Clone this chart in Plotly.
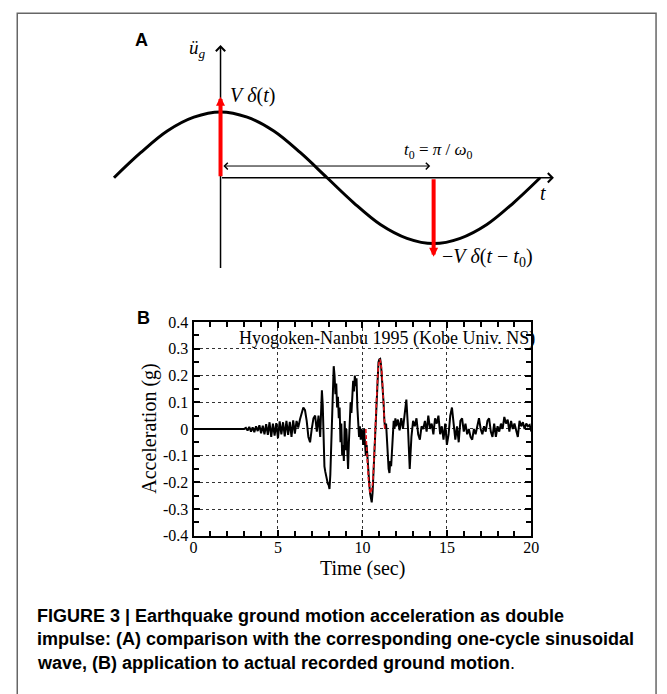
import math
import plotly.graph_objects as go

W, H = 667, 694

# ---------------- Panel A data (schematic one-cycle sinusoid) ----------------
PHASE = [-math.pi/2 + k*math.pi/8 for k in range(17)]
WAVE = [0.0, 0.38, 0.71, 0.92, 1.0, 0.92, 0.71, 0.38, 0.0,
        -0.38, -0.71, -0.92, -1.0, -0.92, -0.71, -0.38, 0.0]
IMPULSE_T = [0.0, math.pi]
IMPULSE_H = [1.23, -1.20]

# ---------------- Panel B data (Kobe Univ. NS record) ----------------
TIME_A = [0.0, 3.0 - 0.001]
ACC_A = [0.0, 0.0]
# 3.0 .. 7.4 every 0.1 s
ACC_B = [0, 0.004, -0.006, 0.008, -0.01, 0.006, -0.012, 0.01, -0.008, 0.014,
         -0.016, 0.012, -0.02, 0.018, -0.022, 0.025, -0.03, 0.02, -0.025, 0.022,
         -0.035, 0.028, -0.02, 0.025, -0.028, 0.03, -0.022, 0.026, -0.03, 0.032,
         -0.018, 0.03, 0.005, 0.035, 0.06, 0.08, 0.07, 0.03, -0.03, -0.05,
         0.0, 0.04, 0.05, -0.01, 0.05]
# 7.45 .. 12.0 every 0.05 s
ACC_C = [0.02, -0.03, 0.06, 0.145, 0.09, -0.05, -0.14, -0.16, -0.18, -0.2,
         -0.205, -0.21, -0.225, -0.17, -0.05, 0.1, 0.19, 0.235, 0.2, 0.13,
         0.17, 0.08, 0.12, 0.04, 0.08, -0.05, 0.02, -0.1, -0.06, -0.12,
         0.03, -0.08, 0.0, -0.1, -0.15, -0.05, 0.05, 0.1, 0.06, 0.12,
         0.18, 0.14, 0.2, 0.16, 0.19, 0.08, 0.02, -0.03, 0.01, -0.04,
         0.0,
         -0.02, -0.06, 0.0, -0.05, -0.1, -0.06, -0.12, -0.15, -0.2, -0.24,
         -0.26, -0.275, -0.24, -0.17, -0.08, 0.0, 0.08, 0.16, 0.22, 0.25,
         0.26, 0.262, 0.24, 0.2, 0.17, 0.1, 0.03, 0.0, 0.02, -0.04,
         -0.1, -0.15, -0.165, -0.12, -0.14, -0.06, -0.02, 0.03, 0.0, 0.04,
         0.01]
# 12.1 .. 20.0 every 0.1 s
ACC_D = [0.035, -0.005, 0.04, 0.0, 0.06, 0.11, 0.0, -0.15, -0.03, 0.03,
         0.01, 0.04, -0.02, -0.04, 0.01, 0.0, 0.03, -0.01, 0.05, 0.0,
         0.02, -0.02, 0.04, 0.02, 0.05, -0.02, 0.01, -0.04, 0.02, -0.06,
         -0.02, 0.05, 0.08, 0.02, -0.04, 0.01, -0.05, 0.03, 0.04, -0.01,
         0.02, -0.02, 0.0, -0.03, -0.04, 0.0, -0.02, 0.01, 0.04, 0.0,
         -0.02, 0.01, -0.01, 0.03, 0.04, -0.01, -0.03, 0.02, -0.03, 0.01,
         -0.01, 0.02, 0.0, 0.045, 0.02, 0.035, -0.01, 0.03, 0.0, 0.02,
         -0.01, -0.03, 0.03, 0.01, 0.025, 0.0, 0.02, 0.01, 0.015, -0.01]

TIME = (TIME_A
        + [round(3.0 + 0.1*i, 3) for i in range(len(ACC_B))]
        + [round(7.45 + 0.05*i, 3) for i in range(len(ACC_C))]
        + [round(12.1 + 0.1*i, 3) for i in range(len(ACC_D))])
ACC = ACC_A + ACC_B + ACC_C + ACC_D

# double-impulse equivalent (red dashed)
PULSE_T = [10.2, 10.3, 10.4, 10.48, 10.58, 10.68, 10.76, 10.86, 10.95, 11.03, 11.12, 11.22, 11.32]
PULSE_A = [0.0, -0.13, -0.215, -0.24, -0.215, -0.12, 0.0, 0.14, 0.235, 0.26, 0.23, 0.13, 0.0]

X_TICKS = [0, 5, 10, 15, 20]
Y_TICKS = [-0.4, -0.3, -0.2, -0.1, 0, 0.1, 0.2, 0.3, 0.4]
Y_TICKTEXT = ["-0.4", "-0.3", "-0.2", "-0.1", "0", "0.1", "0.2", "0.3", "0.4"]

# ---------------- layout helpers ----------------
def fx(px):
    return px / W

def fy(py):
    return 1 - py / H

# panel A calibration (pixel geometry)
X0PIX, PX_PER_RAD = 220.5, 69.07
Y0PIX, PX_PER_UNIT = 174.0, 67.5
def ax_x(px):
    return (px - X0PIX) / PX_PER_RAD
def ax_y(py):
    return (Y0PIX - py) / PX_PER_UNIT

SERIF = "Liberation Serif"
SANS = "Liberation Sans"

fig = go.Figure()

# Panel A wave
fig.add_trace(go.Scatter(x=PHASE, y=WAVE, mode="lines", xaxis="x2", yaxis="y2",
                         line=dict(color="black", width=3, shape="spline"),
                         hoverinfo="skip", showlegend=False))

# Panel B traces
fig.add_trace(go.Scatter(x=TIME, y=ACC, mode="lines",
                         line=dict(color="black", width=2),
                         showlegend=False))
fig.add_trace(go.Scatter(x=PULSE_T, y=PULSE_A, mode="lines",
                         line=dict(color="#e8141a", width=1.6, dash="4px,2px", shape="spline"),
                         showlegend=False))

ann = []
# axes arrows of panel A
ann.append(dict(x=0, y=ax_y(38), ax=0, ay=ax_y(268), xref="x2", yref="y2",
                axref="x2", ayref="y2", showarrow=True, arrowhead=4, arrowsize=1.2,
                arrowwidth=1.5, arrowcolor="black", text=""))
ann.append(dict(x=ax_x(560), y=0, ax=0, ay=0, xref="x2", yref="y2",
                axref="x2", ayref="y2", showarrow=True, arrowhead=4, arrowsize=1.2,
                arrowwidth=1.5, arrowcolor="black", text=""))
# impulses
for t, h in zip(IMPULSE_T, IMPULSE_H):
    ann.append(dict(x=t, y=h, ax=t, ay=0, xref="x2", yref="y2",
                    axref="x2", ayref="y2", showarrow=True, arrowhead=2, arrowsize=0.45,
                    arrowwidth=4, arrowcolor="#ff0000", text=""))
# t0 double arrow
ann.append(dict(x=IMPULSE_T[1] - 0.05, y=ax_y(162), ax=IMPULSE_T[0] + 0.02, ay=ax_y(162),
                xref="x2", yref="y2", axref="x2", ayref="y2", showarrow=True,
                arrowhead=4, startarrowhead=4, arrowside="end+start", arrowsize=1.3,
                startarrowsize=1.3, arrowwidth=1, arrowcolor="black", text=""))

def label(text, x, y, size, family=SERIF, xanchor="center", yanchor="middle", angle=0, color="black"):
    ann.append(dict(text=text, x=fx(x), y=fy(y), xref="paper", yref="paper",
                    xanchor=xanchor, yanchor=yanchor, showarrow=False, textangle=angle,
                    font=dict(family=family, size=size, color=color)))

label("<b>A</b>", 140, 33, 18, family=SANS)
label("<i>ü</i><sub><i>g</i></sub>", 197, 42, 19)
label("<i>V</i> <i>δ</i>(<i>t</i>)", 228, 90, 20, xanchor="left")
label("<i>t</i><sub>0</sub> = <i>π</i> / <i>ω</i><sub>0</sub>", 405, 147, 17, xanchor="left")
label("<i>t</i>", 549, 190, 20)
label("−<i>V</i> <i>δ</i>(<i>t</i> − <i>t</i><sub>0</sub>)", 444, 256, 20, xanchor="left")

label("<b>B</b>", 142, 318, 18, family=SANS)
label("Hyogoken-Nanbu 1995 (Kobe Univ. NS)", 237, 339, 18, xanchor="left")
label("Acceleration (g)", 148, 431, 20, angle=-90)
label("Time (sec)", 365, 575, 20)

label("<b>FIGURE 3 | Earthquake ground motion acceleration as double</b>", 32, 623, 18, family=SANS, xanchor="left")
label("<b>impulse: (A) comparison with the corresponding one-cycle sinusoidal</b>", 32, 647, 18, family=SANS, xanchor="left")
label("<b>wave, (B) application to actual recorded ground motion</b>.", 32, 671, 18, family=SANS, xanchor="left")

shapes = [dict(type="rect", xref="paper", yref="paper", x0=fx(13.5), x1=fx(664), y0=-0.02, y1=fy(5.5),
               line=dict(color="#666666", width=1.5), fillcolor="rgba(0,0,0,0)", layer="below")]

grid = dict(showgrid=True, gridcolor="#333333", gridwidth=1, griddash="dot")
tickfont = dict(family=SERIF, size=16, color="black")

fig.update_layout(
    width=W, height=H, margin=dict(l=0, r=0, t=0, b=0),
    paper_bgcolor="white", plot_bgcolor="rgba(0,0,0,0)",
    showlegend=False,
    annotations=ann, shapes=shapes,
    xaxis=dict(domain=[fx(193), fx(537)], range=[0, 20], tickmode="array", tickvals=X_TICKS,
               ticks="inside", ticklen=6, tickwidth=1.5, tickcolor="black",
               showline=True, linewidth=2, linecolor="black", mirror="ticks",
               zeroline=False, tickfont=tickfont, ticklabelstandoff=-4,
               minor=dict(tickmode="linear", tick0=0, dtick=1, ticks="inside", ticklen=5,
                          tickwidth=1.5, tickcolor="black", showgrid=False),
               anchor="y", **grid),
    yaxis=dict(domain=[fy(541), fy(322)], range=[-0.4, 0.4], tickmode="array", tickvals=Y_TICKS,
               ticktext=Y_TICKTEXT,
               ticks="inside", ticklen=6, tickwidth=1.5, tickcolor="black",
               showline=True, linewidth=2, linecolor="black", mirror="ticks",
               zeroline=False, tickfont=tickfont,
               minor=dict(tickmode="linear", tick0=0, dtick=0.05, ticks="inside", ticklen=5,
                          tickwidth=1.5, tickcolor="black", showgrid=False),
               anchor="x", **grid),
    xaxis2=dict(domain=[0, 1], range=[ax_x(0), ax_x(W)], visible=False, anchor="y2", fixedrange=True),
    yaxis2=dict(domain=[0, 1], range=[ax_y(H), ax_y(0)], visible=False, anchor="x2", fixedrange=True),
)

fig.write_html("out.html")
